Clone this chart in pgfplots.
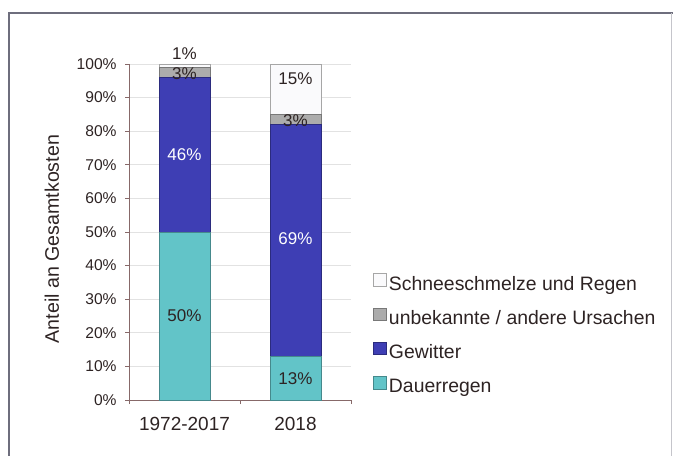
\documentclass[border=0pt]{standalone}
\usepackage{fontspec}
\setmainfont{Liberation Sans}
\usepackage{pgfplots}
\pgfplotsset{compat=1.18}

\definecolor{teal1}{RGB}{98,196,200}
\definecolor{blue1}{RGB}{62,62,180}
\definecolor{gray1}{RGB}{172,172,172}
\definecolor{white1}{RGB}{250,250,252}
\definecolor{txt}{RGB}{45,35,35}
\definecolor{axcol}{RGB}{135,105,105}
\definecolor{gridcol}{RGB}{226,226,226}
\definecolor{framecol}{RGB}{110,110,125}

\tikzset{lbl/.style={font=\fontsize{8.5}{10}\selectfont, text=txt}}

% 1 px of the reference = 0.5pt
\begin{document}
\begin{tikzpicture}
\useasboundingbox (0,0) rectangle (336.5pt,-227.5pt);
\draw[framecol, line width=0.6pt] (4.5pt,-240pt) -- (4.5pt,-6.5pt) -- (340pt,-6.5pt);
\draw[framecol!40, line width=0.4pt] (335.5pt,-6.5pt) -- (335.5pt,-240pt);
\begin{axis}[
    at={(64.5pt,-200pt)}, anchor=south west,
    scale only axis,
    width=111pt, height=168pt,
    ybar stacked,
    bar width=25.5pt,
    xmin=-0.5, xmax=1.5,
    ymin=0, ymax=100,
    axis lines*=left,
    axis line style={axcol, line width=0.5pt},
    xtick={-0.5,0.5,1.5},
    xticklabels={},
    extra x ticks={0,1},
    extra x tick labels={1972-2017,2018},
    extra x tick style={major tick length=0pt},
    ytick={0,10,...,100},
    yticklabels={0\%,10\%,20\%,30\%,40\%,50\%,60\%,70\%,80\%,90\%,100\%},
    tick style={axcol, line width=0.5pt},
    tick align=outside,
    major tick length=2pt,
    ymajorgrids,
    grid style={gridcol, line width=0.4pt},
    yticklabel style={font=\fontsize{7.8}{9}\selectfont, text=txt, inner sep=0pt, xshift=-4pt},
    xticklabel style={font=\fontsize{9.5}{11}\selectfont, text=txt, inner sep=0pt, anchor=north, yshift=-8.5pt},
    ylabel={Anteil an Gesamtkosten},
    every axis y label/.style={at={(axis description cs:-0.347,0.479)}, rotate=90, anchor=center,
        font=\fontsize{9.8}{11}\selectfont, text=txt},
    clip=false,
    reverse legend,
    legend cell align=left,
    legend style={at={(rel axis cs:1.072,0.39)}, anchor=north west, draw=none, fill=none,
        font=\fontsize{9.7}{11}\selectfont, text=txt,
        row sep=6.8pt,
        nodes={inner sep=0pt, text height=7pt, text depth=2pt},
        /tikz/every odd column/.append style={column sep=1.3pt}},
    legend image code/.code={\draw[#1, line width=0.3pt] (0pt,-0.5pt) rectangle (6.2pt,5.7pt);},
]
\addplot[fill=teal1, draw=teal1!70!black, line width=0.3pt] coordinates {(0,50) (1,13)};
\addlegendentry{Dauerregen}
\addplot[fill=blue1, draw=blue1!70!black, line width=0.3pt] coordinates {(0,46) (1,69)};
\addlegendentry{Gewitter}
\addplot[fill=gray1, draw=gray1!70!black, line width=0.3pt] coordinates {(0,3) (1,3)};
\addlegendentry{unbekannte / andere Ursachen}
\addplot[fill=white1, draw=gray!70, line width=0.3pt] coordinates {(0,1) (1,15)};
\addlegendentry{Schneeschmelze und Regen}

\coordinate (a1) at (axis cs:0,25);
\coordinate (a2) at (axis cs:0,73);
\coordinate (a3) at (axis cs:0,97.2);
\coordinate (a4) at (axis cs:0,103.2);
\coordinate (b1) at (axis cs:1,6.5);
\coordinate (b2) at (axis cs:1,48);
\coordinate (b3) at (axis cs:1,83.2);
\coordinate (b4) at (axis cs:1,95.6);
\end{axis}
\node[lbl] at (a1) {50\%};
\node[lbl, text=white] at (a2) {46\%};
\node[lbl] at (a3) {3\%};
\node[lbl] at (a4) {1\%};
\node[lbl] at (b1) {13\%};
\node[lbl, text=white] at (b2) {69\%};
\node[lbl] at (b3) {3\%};
\node[lbl] at (b4) {15\%};
\end{tikzpicture}
\end{document}
